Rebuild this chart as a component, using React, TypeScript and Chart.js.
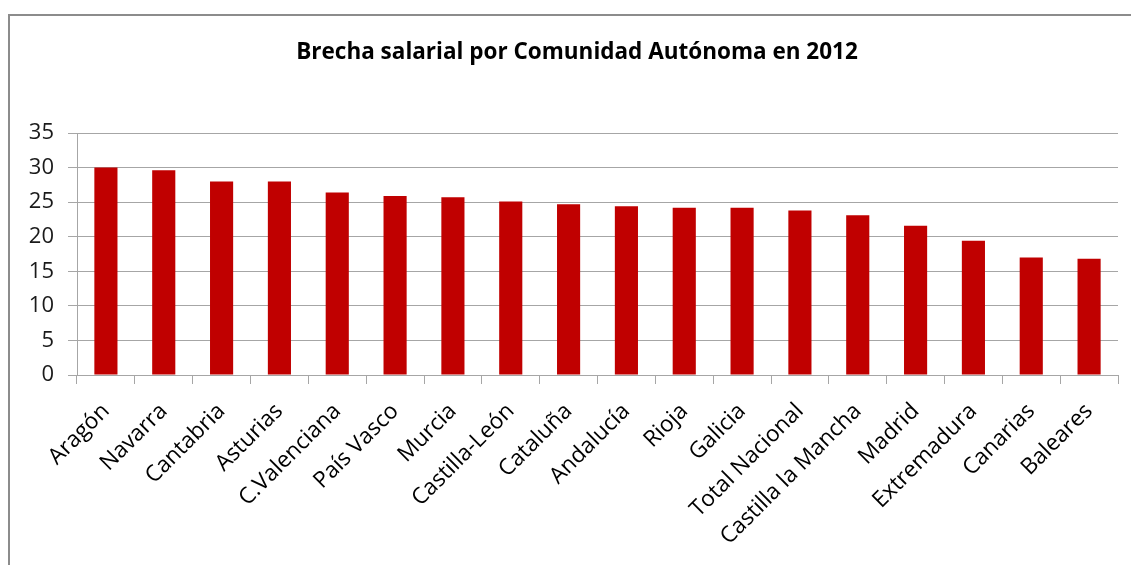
import React, { useEffect, useRef } from "react";
import { Chart, registerables } from "chart.js";

Chart.register(...registerables);

const TITLE = "Brecha salarial por Comunidad Autónoma en 2012";

const categories: string[] = [
  "Aragón",
  "Navarra",
  "Cantabria",
  "Asturias",
  "C.Valenciana",
  "País Vasco",
  "Murcia",
  "Castilla-León",
  "Cataluña",
  "Andalucía",
  "Rioja",
  "Galicia",
  "Total Nacional",
  "Castilla la Mancha",
  "Madrid",
  "Extremadura",
  "Canarias",
  "Baleares",
];

const brecha: number[] = [
  30.0, 29.6, 28.0, 28.0, 26.4, 25.9, 25.7, 25.1, 24.7, 24.4, 24.2, 24.2, 23.8,
  23.1, 21.6, 19.4, 17.0, 16.8,
];

const yMin = 0;
const yMax = 35;
const yStep = 5;

// lets the y tick labels use the space left of the y scale box
const widenYLabelArea = {
  id: "widenYLabelArea",
  afterLayout(chart: any) {
    const y = chart.scales.y;
    if (y) {
      y.left = 0;
      y.width = y.right;
    }
  },
};

export default function App() {
  const canvasRef = useRef<HTMLCanvasElement | null>(null);

  useEffect(() => {
    document.body.style.overflow = "hidden";
    const canvas = canvasRef.current;
    if (!canvas) return;
    const gridColor = "#a6a6a6";
    const chart = new Chart(canvas, {
      type: "bar",
      data: {
        labels: categories,
        datasets: [
          {
            label: "Brecha salarial",
            data: brecha,
            backgroundColor: "#C00000",
            borderWidth: 0,
            barPercentage: 0.8,
            categoryPercentage: 0.5,
          },
        ],
      },
      plugins: [widenYLabelArea],
      options: {
        responsive: false,
        animation: false,
        devicePixelRatio: 1,
        layout: { padding: { left: 26, right: 13, top: 0, bottom: 0 } },
        plugins: {
          legend: { display: false },
          tooltip: { enabled: false },
          title: {
            display: true,
            text: TITLE,
            color: "#000",
            font: { family: "'Open Sans', sans-serif", size: 22.5, weight: "bold" },
            padding: { top: 23, bottom: 67 },
          },
        },
        scales: {
          x: {
            offset: true,
            grid: {
              display: true,
              offset: true,
              drawOnChartArea: false,
              drawTicks: true,
              tickLength: 9,
              color: gridColor,
              lineWidth: 1,
            },
            border: { display: true, color: gridColor, width: 1 },
            ticks: {
              autoSkip: false,
              minRotation: 45,
              maxRotation: 45,
              padding: 14,
              color: "#000",
              font: { family: "'Open Sans', sans-serif", size: 22.5 },
            },
            afterFit: (scale: any) => {
              scale.height = 190;
            },
          },
          y: {
            min: yMin,
            max: yMax,
            grid: {
              color: gridColor,
              lineWidth: 1,
              drawTicks: true,
              tickLength: 9,
            },
            border: { display: true, color: gridColor, width: 1 },
            ticks: {
              stepSize: yStep,
              padding: 14,
              color: "#1a1a1a",
              font: { family: "'Open Sans', sans-serif", size: 22 },
            },
            afterFit: (scale: any) => {
              scale.width = 41;
            },
          },
        },
      },
    });
    return () => {
      chart.destroy();
    };
  }, []);

  return (
    <div
      style={{
        position: "absolute",
        left: 8,
        top: 14,
        width: 1123,
        height: 551,
        boxSizing: "border-box",
        borderTop: "2px solid #8c8c8c",
        borderLeft: "2px solid #8c8c8c",
        background: "#fff",
      }}
    >
      <canvas
        ref={canvasRef}
        width={1121}
        height={549}
        style={{ position: "absolute", left: 0, top: 0, width: 1121, height: 549 }}
      />
    </div>
  );
}
